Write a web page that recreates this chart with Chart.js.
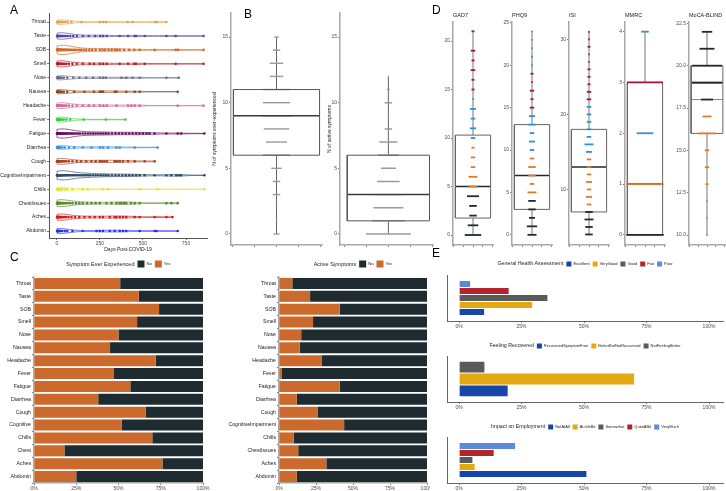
<!DOCTYPE html>
<html>
<head>
<meta charset="utf-8">
<script src="https://cdn.jsdelivr.net/npm/chart.js@4.4.1/dist/chart.umd.min.js"></script>
<style>
  html, body { margin: 0; padding: 0; background: #fff; }
  #fig { position: relative; width: 726px; height: 491px; overflow: hidden; font-family: 'Liberation Sans', Arial, sans-serif; }
  #fig canvas { position: absolute; }
  .tag { position: absolute; font-size: 12px; line-height: 12px; color: #000; }
</style>
</head>
<body>
<div id="fig">
  <canvas id="panelA" width="215" height="254" style="left:0;top:0"></canvas>
  <canvas id="panelB1" width="115" height="252" style="left:208px;top:0"></canvas>
  <canvas id="panelB2" width="113" height="252" style="left:323px;top:0"></canvas>
  <canvas id="gad7" width="57" height="250" style="left:437px;top:0"></canvas>
  <canvas id="phq9" width="57" height="250" style="left:496px;top:0"></canvas>
  <canvas id="isi" width="57" height="250" style="left:553px;top:0"></canvas>
  <canvas id="mmrc" width="57" height="250" style="left:609px;top:0"></canvas>
  <canvas id="moca" width="53" height="250" style="left:673px;top:0"></canvas>
  <canvas id="panelC1" width="212" height="239" style="left:0;top:252px"></canvas>
  <canvas id="panelC2" width="212" height="239" style="left:218px;top:252px"></canvas>
  <canvas id="panelE1" width="296" height="82" style="left:430px;top:250px"></canvas>
  <canvas id="panelE2" width="296" height="80" style="left:430px;top:332px"></canvas>
  <canvas id="panelE3" width="296" height="79" style="left:430px;top:412px"></canvas>
  <div class="tag" style="left:10px;top:4px">A</div>
  <div class="tag" style="left:244px;top:8px">B</div>
  <div class="tag" style="left:10px;top:251px">C</div>
  <div class="tag" style="left:432px;top:4px">D</div>
  <div class="tag" style="left:432px;top:247px">E</div>
</div>
<script>
// ---- data ----
const symptomsA = ['Throat', 'Taste', 'SOB', 'Smell', 'Nose', 'Nausea', 'Headache', 'Fever', 'Fatigue',
  'Diarrhea', 'Cough', 'CognitiveImpairment', 'Chills', 'ChestIssues', 'Aches', 'Abdomin'];

const throatDays = [1, 3, 5, 7, 9, 12, 16, 20, 26, 35, 48, 62, 85, 143, 250, 268, 284, 410, 440, 571, 580, 636];
const tasteDays = [1, 2, 3, 4, 6, 8, 10, 12, 15, 18, 21, 25, 30, 36, 44, 52, 63, 78, 95, 116, 150, 184, 222, 251, 268, 290, 365, 413, 452, 460, 510, 636, 690, 852];
const sobDays = [1, 2, 3, 4, 5, 6, 8, 10, 12, 14, 16, 18, 20, 23, 26, 30, 34, 38, 42, 47, 52, 58, 64, 70, 78, 86, 95, 105, 115, 128, 140, 155, 170, 188, 205, 225, 249, 265, 280, 300, 318, 336, 350, 365, 390, 420, 450, 481, 568, 690, 704, 852];
const smellDays = [1, 2, 3, 5, 6, 8, 10, 12, 15, 18, 22, 26, 31, 38, 46, 56, 70, 90, 115, 150, 190, 215, 249, 268, 290, 365, 413, 450, 460, 510, 690, 852];
const noseDays = [1, 2, 4, 6, 8, 11, 15, 20, 28, 40, 60, 95, 130, 170, 210, 249, 268, 284, 375, 403, 440, 481, 636, 708];
const nauseaDays = [1, 2, 3, 5, 7, 10, 14, 20, 28, 40, 60, 100, 160, 215, 249, 260, 268, 336, 346, 403, 452, 481, 702];
const headacheDays = [1, 2, 3, 4, 6, 8, 10, 13, 16, 20, 25, 31, 38, 46, 56, 70, 90, 115, 150, 185, 215, 249, 270, 290, 346, 413, 432, 452, 481, 702, 852];
const feverDays = [1, 2, 3, 4, 6, 8, 10, 13, 17, 22, 30, 40, 55, 77, 155, 284, 398];
const fatigueDays = [1, 2, 3, 4, 5, 6, 8, 10, 12, 14, 16, 18, 20, 23, 26, 30, 34, 38, 43, 48, 54, 60, 66, 72, 80, 88, 96, 105, 115, 125, 135, 150, 165, 180, 195, 210, 225, 240, 255, 270, 285, 300, 320, 340, 360, 380, 400, 420, 440, 460, 480, 500, 520, 538, 568, 636, 702, 722, 857];
const diarrheaDays = [1, 2, 4, 6, 9, 13, 20, 30, 45, 70, 100, 150, 200, 250, 268, 297, 346, 365, 452, 585];
const coughDays = [1, 2, 3, 4, 6, 8, 10, 13, 16, 20, 25, 31, 38, 46, 56, 70, 90, 115, 140, 170, 200, 225, 249, 260, 275, 290, 336, 350, 365, 384, 413, 452, 510, 568];
const cognitiveDays = [1, 2, 3, 4, 5, 6, 8, 10, 12, 14, 16, 18, 20, 23, 26, 30, 34, 38, 43, 48, 54, 60, 66, 72, 80, 88, 96, 105, 115, 125, 135, 145, 155, 165, 175, 185, 195, 210, 225, 240, 255, 270, 285, 300, 320, 340, 360, 380, 400, 420, 440, 460, 481, 510, 568, 636, 665, 694, 708, 722, 857];
const chillsDays = [1, 2, 3, 5, 7, 10, 14, 20, 30, 45, 60, 90, 150, 180, 268, 297, 481, 585, 857];
const chestDays = [1, 2, 3, 4, 5, 7, 9, 11, 13, 16, 19, 22, 26, 31, 37, 44, 52, 62, 75, 90, 110, 130, 150, 175, 200, 225, 249, 288, 317, 346, 365, 375, 390, 403, 430, 452, 481, 636, 665, 702];
const achesDays = [1, 2, 3, 4, 6, 8, 10, 12, 15, 18, 22, 26, 31, 37, 45, 55, 68, 85, 105, 130, 160, 190, 220, 249, 268, 307, 336, 346, 365, 384, 403, 452, 481, 568, 636, 671];
const abdominDays = [1, 2, 3, 4, 5, 7, 9, 12, 16, 22, 30, 45, 60, 90, 150, 230, 249, 268, 307, 336, 365, 384, 403, 481, 568, 578, 702];
const dayLists = [throatDays, tasteDays, sobDays, smellDays, noseDays, nauseaDays, headacheDays, feverDays,
  fatigueDays, diarrheaDays, coughDays, cognitiveDays, chillsDays, chestDays, achesDays, abdominDays];
const dayTicks = [0, 250, 500, 750];

// box stats: min, q1, median, q3, max
const everStats = [0, 6, 9, 11, 15];
const everValues = [15, 14, 13, 12, 11, 10, 9, 8, 7, 6, 5, 4, 3, 2, 1, 0];
const everCounts = [3, 5, 9, 9, 18, 18, 20, 17, 14, 18, 7, 5, 5, 1, 1, 4];
const activeStats = [0, 1, 3, 6, 12];
const activeValues = [12, 11, 10, 9, 8, 7, 6, 5, 4, 3, 2, 1, 0];
const activeCounts = [1, 2, 5, 1, 5, 12, 14, 10, 15, 18, 20, 22, 30];
const countTicks = [0, 5, 10, 15];

const gadStats = [0, 1.75, 5, 10.3, 21];
const gadValues = [21, 19, 18, 17, 16, 15, 14, 13, 12, 11, 10, 9, 8, 7, 6, 5, 4, 3, 2, 1, 0];
const gadCounts = [2, 3, 2, 3, 2, 2, 1, 4, 3, 4, 3, 2, 3, 3, 6, 6, 8, 5, 5, 7, 11];
const phqStats = [0, 3, 7, 13, 24];
const phqValues = [24, 23, 22, 21, 20, 19, 18, 17, 16, 15, 14, 13, 12, 11, 10, 9, 8, 7, 6, 5, 4, 3, 2, 1, 0];
const phqCounts = [1, 1, 1, 1, 1, 2, 1, 3, 2, 3, 4, 5, 3, 4, 3, 3, 5, 5, 3, 6, 5, 5, 4, 7, 6];
const isiStats = [4, 7, 13, 18, 31];
const isiValues = [31, 30, 29, 28, 27, 26, 25, 24, 23, 22, 21, 20, 19, 18, 17, 16, 15, 14, 13, 12, 11, 10, 9, 8, 7, 6, 5, 4];
const isiCounts = [1, 1, 2, 1, 1, 2, 2, 2, 3, 3, 3, 3, 3, 3, 3, 6, 4, 3, 3, 3, 4, 3, 4, 3, 5, 6, 5, 5];
const mmrcStats = [0, 0, 1, 3, 4];
const mmrcValues = [4, 3, 2, 1, 0];
const mmrcCounts = [5, 24, 11, 25, 25];
const mocaStats = [10, 16, 19, 20, 22];
const mocaValues = [22, 21, 20, 19, 18, 17, 16, 15, 14, 13, 12, 11, 10];
const mocaCounts = [7, 10, 20, 20, 8, 6, 12, 3, 3, 2, 1, 1, 1];
const mocaCutoff = 18;

const everLabels = ['Throat', 'Taste', 'SOB', 'Smell', 'Nose', 'Nausea', 'Headache', 'Fever', 'Fatigue',
  'Diarrhea', 'Cough', 'Cognitive', 'Chills', 'Chest', 'Aches', 'Abdomin'];
const everYes = [51, 62, 74, 61, 50, 45, 72, 47, 57, 38, 66, 52, 70, 18, 76, 25];
const everNo = [49, 38, 26, 39, 50, 55, 28, 53, 43, 62, 34, 48, 30, 82, 24, 75];
const activeLabels = ['Throat', 'Taste', 'SOB', 'Smell', 'Nose', 'Nausea', 'Headache', 'Fever', 'Fatigue',
  'Diarrhea', 'Cough', 'CognitiveImpairment', 'Chills', 'ChestIssues', 'Aches', 'Abdomin'];
const activeYes = [9, 21, 41, 23, 15, 14, 29, 2, 41, 12, 26, 44, 10, 13, 32, 12];
const activeNo = [91, 79, 59, 77, 85, 86, 71, 98, 59, 88, 74, 56, 90, 87, 68, 88];
const pctTicks = [0, 25, 50, 75, 100];

const healthLevels = ['Excellent', 'VeryGood', 'Good', 'Fair', 'Poor'];
const healthPct = [10.3, 29.5, 35.6, 20.1, 4.7];
const recoveryLevels = ['RecoveredSymptomFree', 'BetterButNotRecovered', 'NotFeelingBetter'];
const recoveryPct = [19.7, 70.3, 10.4];
const employmentLevels = ['NotAtAll', 'ALittleBit', 'Somewhat', 'QuiteABit', 'VeryMuch'];
const employmentPct = [51.2, 6.5, 5.6, 14.1, 22.7];

// ---- styles ----
const FONT = "'Liberation Sans', Arial, sans-serif";
const symptomColors = ['#e5a24a', '#5546a0', '#d2692a', '#b5232a', '#6c6a8c', '#8a4620', '#d26aa0', '#3ccf3c',
  '#6a0f5c', '#3a92da', '#a8431e', '#2e4e6c', '#e2e235', '#5a8c2c', '#d01c1c', '#2c2cf0'];
const YES = '#cb6a2c', NO = '#1e2b30';
const SEV = ['#1e2b30', '#e2792a', '#2f8fd8', '#a5162f', '#3f9a6a'];
const E_COLORS = ['#1646a8', '#e3a812', '#5a5a5a', '#b3242c', '#5b8ad8'];
const VIOLIN_HALF = 4.6;
const VIOLIN_BW = 50;

Chart.defaults.font.family = FONT;
Chart.defaults.color = '#4d4d4d';
Chart.defaults.animation = false;
Chart.defaults.responsive = false;
Chart.defaults.layout.autoPadding = false;
Chart.defaults.plugins.legend.display = false;
Chart.defaults.plugins.tooltip.enabled = false;

const axisLook = (color, width) => ({
  border: { display: true, color: color, width: width },
  grid: { display: true, drawOnChartArea: false, drawTicks: true, tickLength: 2, color: '#555', lineWidth: 0.8 }
});
const fixedTicks = list => s => { s.ticks = list.map(v => ({ value: v })); };
const fixW = w => s => { s.width = w; s.paddingTop = 0; s.paddingBottom = 0; };
const fixH = h => s => { s.height = h; s.paddingLeft = 0; s.paddingRight = 0; };

// ---- plugins ----
function violinProfile(v) {
  const lo = Math.min(...v), hi = Math.max(...v), out = [];
  for (let k = 0; k <= 120; k++) {
    const d = lo + (hi - lo) * k / 120;
    let s = 0;
    v.forEach(x => { const z = (d - x) / VIOLIN_BW; s += Math.exp(-0.5 * z * z); });
    out.push({ d: d, w: s });
  }
  return out;
}
const violinPlugin = {
  id: 'violins',
  beforeDatasetsDraw(chart) {
    const { ctx, scales: { x, y } } = chart;
    const profiles = dayLists.map(violinProfile);
    const peak = Math.max(...profiles.flatMap(p => p.map(q => q.w)));
    ctx.save();
    ctx.lineWidth = 0.7;
    profiles.forEach((p, i) => {
      const cy = y.getPixelForValue(i);
      ctx.beginPath();
      p.forEach((q, k) => {
        const px = x.getPixelForValue(q.d), h = VIOLIN_HALF * q.w / peak;
        if (k) ctx.lineTo(px, cy - h); else ctx.moveTo(px, cy - h);
      });
      for (let k = p.length - 1; k >= 0; k--) {
        ctx.lineTo(x.getPixelForValue(p[k].d), cy + VIOLIN_HALF * p[k].w / peak);
      }
      ctx.closePath();
      ctx.strokeStyle = symptomColors[i];
      ctx.stroke();
    });
    ctx.restore();
  }
};

const inlineLegend = {
  id: 'inlineLegend',
  afterDraw(chart, args, opts) {
    if (!opts.title) return;
    const ctx = chart.ctx;
    let items = chart.data.datasets.map(ds => ({ text: ds.label, color: ds.backgroundColor }));
    if (opts.reverse) items = items.reverse();
    ctx.save();
    ctx.textBaseline = 'middle';
    ctx.textAlign = 'left';
    ctx.font = opts.titleSize + 'px ' + FONT;
    const titleW = ctx.measureText(opts.title).width;
    ctx.font = opts.itemSize + 'px ' + FONT;
    items.forEach(it => { it.w = ctx.measureText(it.text).width; });
    const total = titleW + opts.gap + items.reduce((s, it) => s + opts.box + 2 + it.w + opts.gap, 0) - opts.gap;
    let x = (chart.chartArea.left + chart.chartArea.right) / 2 - total / 2;
    const y = opts.y;
    ctx.fillStyle = '#222';
    ctx.font = opts.titleSize + 'px ' + FONT;
    ctx.fillText(opts.title, x, y);
    x += titleW + opts.gap;
    ctx.font = opts.itemSize + 'px ' + FONT;
    items.forEach(it => {
      ctx.fillStyle = it.color;
      ctx.fillRect(x, y - opts.box / 2, opts.box, opts.box);
      x += opts.box + 2;
      ctx.fillStyle = '#222';
      ctx.fillText(it.text, x, y);
      x += it.w + opts.gap;
    });
    ctx.restore();
  }
};

const panelTitle = {
  id: 'panelTitle',
  afterDraw(chart, args, opts) {
    if (!opts.text) return;
    const ctx = chart.ctx;
    ctx.save();
    ctx.font = '5.5px ' + FONT;
    ctx.fillStyle = '#222';
    ctx.textBaseline = 'middle';
    ctx.textAlign = 'left';
    ctx.fillText(opts.text, chart.chartArea.left, 15);
    ctx.restore();
  }
};

// ---- A: days post covid ----
new Chart(document.getElementById('panelA'), {
  type: 'scatter',
  data: {
    datasets: symptomsA.map((name, i) => ({
      label: name,
      data: dayLists[i].map(d => ({ x: d, y: i })),
      backgroundColor: symptomColors[i],
      pointRadius: 1.3,
      pointBorderWidth: 0
    }))
  },
  options: {
    layout: { padding: { top: 13, right: 8, left: 0, bottom: 0 } },
    scales: {
      x: {
        type: 'linear', min: -46, max: 872,
        afterBuildTicks: fixedTicks(dayTicks), afterFit: fixH(16),
        ticks: { font: { size: 5 }, padding: 1, maxRotation: 0 },
        title: { display: true, text: 'Days Post-COVID-19', font: { size: 5 }, color: '#222', padding: { top: 0, bottom: 1 } },
        ...axisLook('#555', 1)
      },
      y: {
        type: 'linear', min: -0.65, max: 15.5, reverse: true,
        afterBuildTicks: fixedTicks(symptomsA.map((s, i) => i)), afterFit: fixW(49),
        ticks: { callback: v => symptomsA[v], font: { size: 5 }, color: '#222', padding: 1, autoSkip: false },
        ...axisLook('#555', 1)
      }
    }
  },
  plugins: [violinPlugin]
});

// ---- box plot helper ----
function boxSets(stats, half, values, counts, colorOf, look) {
  const [lo, q1, med, q3, hi] = stats;
  return [
    {
      data: values.map(v => ({ x: 0, y: v })), pointStyle: 'line',
      pointRadius: counts.map(c => Math.max(0.6, c * 0.75)),
      pointBorderColor: values.map(colorOf), pointBorderWidth: look.dashWidth, order: look.dashOrder
    },
    {
      data: [{ x: -half, y: q1 }, { x: half, y: q1 }, { x: half, y: q3 }, { x: -half, y: q3 }, { x: -half, y: q1 }],
      showLine: true, pointRadius: 0, borderColor: look.box, borderWidth: 1, borderJoinStyle: 'miter', order: look.boxOrder
    },
    {
      data: [{ x: -half, y: med }, { x: half, y: med }],
      showLine: true, pointRadius: 0, borderColor: look.median, borderWidth: 1.5, order: look.boxOrder
    },
    {
      data: [{ x: 0, y: lo }, { x: 0, y: q1 }, { x: 0, y: null }, { x: 0, y: q3 }, { x: 0, y: hi }],
      showLine: true, pointRadius: 0, borderColor: look.whisker, borderWidth: 1, order: 2
    }
  ];
}

// ---- B: symptom counts ----
function makeB(id, stats, values, counts, half, xMin, yTitle, yWidth, titlePad, padRight) {
  return new Chart(document.getElementById(id), {
    type: 'scatter',
    data: {
      datasets: boxSets(stats, half, values, counts, () => '#9a9a9a',
        { dashWidth: 1.4, dashOrder: 1, boxOrder: 0, box: '#555', median: '#3a3a3a', whisker: '#666' })
    },
    options: {
      layout: { padding: { top: 13, right: padRight, left: 0, bottom: 0 } },
      scales: {
        x: {
          type: 'linear', min: xMin, max: 2.06,
          afterBuildTicks: fixedTicks([-2, -1, 0, 1, 2]), afterFit: fixH(7),
          ticks: { display: false },
          ...axisLook('#a8a8a8', 1.5)
        },
        y: {
          type: 'linear', min: -0.84, max: 16.83,
          afterBuildTicks: fixedTicks(countTicks), afterFit: fixW(yWidth),
          ticks: { font: { size: 5 }, padding: 1 },
          title: { display: true, text: yTitle, font: { size: 5 }, color: '#222', padding: { top: titlePad, bottom: 0 } },
          ...axisLook('#a8a8a8', 1.5)
        }
      }
    }
  });
}
makeB('panelB1', everStats, everValues, everCounts, 1.95, -2.06, 'N of symptoms ever-experienced', 23, 4, 1);
makeB('panelB2', activeStats, activeValues, activeCounts, 1.87, -2.2, 'N of active symptoms', 17, 4, 2.3);

// ---- D: questionnaire scores ----
const gadColor = v => v < 5 ? SEV[0] : v < 10 ? SEV[1] : v < 15 ? SEV[2] : SEV[3];
const phqColor = v => v < 5 ? SEV[0] : v < 10 ? SEV[1] : v < 15 ? SEV[2] : v < 20 ? SEV[3] : SEV[4];
const isiColor = v => v < 8 ? SEV[0] : v < 15 ? SEV[1] : v < 22 ? SEV[2] : SEV[3];
const mmrcColor = v => SEV[v];
const mocaColor = v => v >= 18 ? SEV[0] : SEV[1];

function makeD(id, title, stats, values, counts, colorOf, yRange, yTicks, fmt, cutoff) {
  const half = 1.85;
  const sets = boxSets(stats, half, values, counts, colorOf,
    { dashWidth: 1.8, dashOrder: 0, boxOrder: 1, box: '#666', median: '#1e2b30', whisker: '#777' });
  if (cutoff !== undefined) {
    sets.push({ data: [{ x: -half, y: cutoff }, { x: half, y: cutoff }], showLine: true, pointRadius: 0,
      borderColor: '#e3343c', borderWidth: 0.8, order: 0 });
  }
  return new Chart(document.getElementById(id), {
    type: 'scatter',
    data: { datasets: sets },
    options: {
      layout: { padding: { top: 22, right: 1, left: 0, bottom: 0 } },
      plugins: { panelTitle: { text: title } },
      scales: {
        x: {
          type: 'linear', min: -2.1, max: 2.1,
          afterBuildTicks: fixedTicks([-2, -1, 0, 1, 2]), afterFit: fixH(5),
          ticks: { display: false },
          ...axisLook('#a8a8a8', 1.5)
        },
        y: {
          type: 'linear', min: yRange[0], max: yRange[1],
          afterBuildTicks: fixedTicks(yTicks), afterFit: fixW(16),
          ticks: { font: { size: 5 }, padding: 1, callback: fmt },
          ...axisLook('#a8a8a8', 1.5)
        }
      }
    },
    plugins: [panelTitle]
  });
}
const plain = v => String(v);
makeD('gad7', 'GAD7', gadStats, gadValues, gadCounts, gadColor, [-1.03, 21.96], [0, 5, 10, 15, 20], plain);
makeD('phq9', 'PHQ9', phqStats, phqValues, phqCounts, phqColor, [-1.2, 25.1], [0, 5, 10, 15, 20, 25], plain);
makeD('isi', 'ISI', isiStats, isiValues, isiCounts, isiColor, [2.6, 32.3], [10, 20, 30], plain);
makeD('mmrc', 'MMRC', mmrcStats, mmrcValues, mmrcCounts, mmrcColor, [-0.2, 4.19], [0, 1, 2, 3, 4], plain);
makeD('moca', 'MoCA-BLIND', mocaStats, mocaValues, mocaCounts, mocaColor, [9.41, 22.58],
  [10, 12.5, 15, 17.5, 20, 22.5], v => v.toFixed(1), mocaCutoff);

// ---- C: symptom proportions ----
function makeC(id, labels, yes, no, title, yWidth, padRight) {
  return new Chart(document.getElementById(id), {
    type: 'bar',
    data: {
      labels: labels,
      datasets: [
        { label: 'Yes', data: yes, backgroundColor: YES, barPercentage: 0.86, categoryPercentage: 1 },
        { label: 'No', data: no, backgroundColor: NO, barPercentage: 0.86, categoryPercentage: 1 }
      ]
    },
    options: {
      indexAxis: 'y',
      layout: { padding: { top: 25, right: padRight, left: 0, bottom: 0 } },
      plugins: { inlineLegend: { title: title, reverse: true, y: 12, titleSize: 5.5, itemSize: 4.2, box: 7, gap: 3 } },
      scales: {
        x: {
          stacked: true, min: 0, max: 100,
          afterBuildTicks: fixedTicks(pctTicks), afterFit: fixH(8),
          ticks: { font: { size: 5 }, padding: 1, maxRotation: 0, callback: v => v + '%' },
          ...axisLook('#a8a8a8', 1.5)
        },
        y: {
          stacked: true, afterFit: fixW(yWidth),
          ticks: { font: { size: 5.2 }, color: '#222', padding: 1, autoSkip: false },
          ...axisLook('#a8a8a8', 1.5)
        }
      }
    },
    plugins: [inlineLegend]
  });
}
makeC('panelC1', everLabels, everYes, everNo, 'Symptom Ever Experienced', 34, 9);
makeC('panelC2', activeLabels, activeYes, activeNo, 'Active Symptoms', 61, 3);

// ---- E: self-assessment ----
function makeE(id, title, levels, pct, padTop, axisH, legendY) {
  const sets = levels.map((lv, i) => ({
    label: lv, data: [pct[i]], backgroundColor: E_COLORS[i],
    borderColor: 'rgba(255,255,255,0.8)', borderWidth: 0.6,
    barPercentage: 1, categoryPercentage: levels.length === 3 ? 0.78 : 0.76
  })).reverse();
  return new Chart(document.getElementById(id), {
    type: 'bar',
    data: { labels: [''], datasets: sets },
    options: {
      indexAxis: 'y',
      layout: { padding: { top: padTop, right: 3, left: 0, bottom: 0 } },
      plugins: { inlineLegend: { title: title, reverse: true, y: legendY, titleSize: 5.3, itemSize: 4, box: 5, gap: 3 } },
      scales: {
        x: {
          min: -4.8, max: 105.6,
          afterBuildTicks: fixedTicks(pctTicks), afterFit: fixH(axisH),
          ticks: { font: { size: 5 }, padding: 1, maxRotation: 0, callback: v => v + '%' },
          ...axisLook('#666', 1)
        },
        y: {
          afterFit: fixW(17),
          ticks: { display: false },
          border: { display: true, color: '#666', width: 1 },
          grid: { display: false }
        }
      }
    },
    plugins: [inlineLegend]
  });
}
makeE('panelE1', 'General Health Assessment', healthLevels, healthPct, 25, 11, 14);
makeE('panelE2', 'Feeling Recovered', recoveryLevels, recoveryPct, 24, 10, 14);
makeE('panelE3', 'Impact on Employment', employmentLevels, employmentPct, 25, 8, 15);
</script>
</body>
</html>
